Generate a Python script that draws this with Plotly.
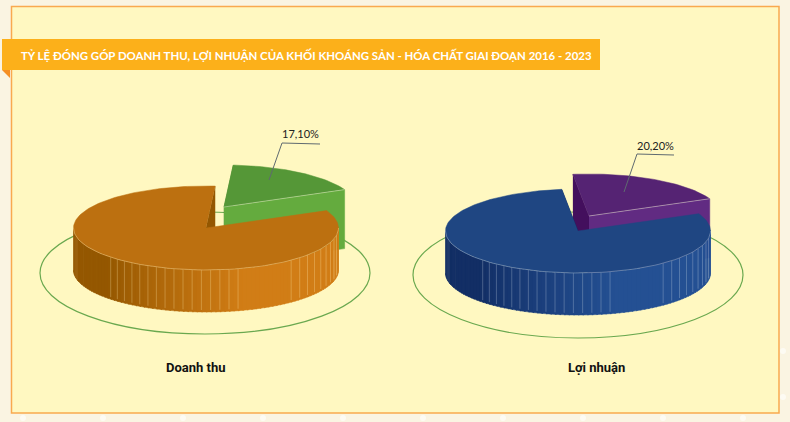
import numpy as np
import plotly.graph_objects as go

# values
chart_names = ["Doanh thu", "Lợi nhuận"]
share_khoi = [17.10, 20.20]
share_con_lai = [82.90, 79.80]
title = "TỶ LỆ ĐÓNG GÓP DOANH THU, LỢI NHUẬN CỦA KHỐI KHOÁNG SẢN - HÓA CHẤT GIAI ĐOẠN 2016 - 2023"

W, H = 790, 422
RX, RY = 132.5, 42
WALL = 42

# (main colours) top, wall dark, wall light, seam / small slice: top, wall, side
styles = [
    dict(center=(206, 228), shift=(18, -21), start=86, ring=(205, 273, 165, 61),
         top="#bc7010", dark="#945700", light="#d17d16", seam="rgba(255,232,170,0.38)",
         s_top="#559737", s_wall="#64ab3e", s_side="#4a8a30", s_wall_h=59,
         leader=([269, 282, 320], [180, 143, 144]), label=(300, 133), name_x=195.5),
    dict(center=(578, 231), shift=(11, -15), start=97, ring=(578, 275, 165, 63),
         top="#1f4682", dark="#122e65", light="#245093", seam="rgba(215,225,235,0.35)",
         s_top="#552373", s_wall="#612b82", s_side="#430f5d", s_wall_h=59,
         leader=([624, 637, 674], [192, 154, 155]), label=(655, 145), name_x=596),
]

fig = go.Figure()


def poly(xs, ys, color, line=None):
    fig.add_trace(go.Scatter(x=xs, y=ys, mode="lines", fill="toself", fillcolor=color,
                             line=dict(color=line or color, width=0.5),
                             hoverinfo="skip", showlegend=False))


def edge(xs, ys, color, width=1):
    fig.add_trace(go.Scatter(x=xs, y=ys, mode="lines", line=dict(color=color, width=width),
                             hoverinfo="skip", showlegend=False))


def px(cx, cy, a):
    a = np.radians(a)
    return cx + RX * np.cos(a), cy - RY * np.sin(a)


def mix(c1, c2, t):
    a = [int(c1[i:i + 2], 16) for i in (1, 3, 5)]
    b = [int(c2[i:i + 2], 16) for i in (1, 3, 5)]
    return "rgb(%d,%d,%d)" % tuple(a[i] + (b[i] - a[i]) * t for i in range(3))


def small_slice(st, share):
    cx, cy = st["center"][0] + st["shift"][0], st["center"][1] + st["shift"][1]
    a0 = st["start"]
    a1 = a0 - share * 3.6
    arc = np.linspace(a0, a1, 50)
    ax, ay = px(cx, cy, arc)
    h = st["s_wall_h"]
    poly([ax[0], cx, cx, ax[0]], [ay[0], cy, cy + h, ay[0] + h], st["s_side"])
    poly([cx, ax[-1], ax[-1], cx], [cy, ay[-1], ay[-1] + h, cy + h], st["s_wall"])
    poly([cx, *ax], [cy, *ay], st["s_top"])
    edge([cx, ax[-1]], [cy, ay[-1]], "rgba(255,255,230,0.4)")


def main_slice(st, small_share, share):
    cx, cy = st["center"]
    a_end = st["start"] - small_share * 3.6
    a_start = a_end - share * 3.6
    # cut face
    sx, sy = px(cx, cy, a_start)
    poly([sx, cx, cx, sx], [sy, cy, cy + WALL, sy + WALL], st["dark"])
    # outer wall, one facet at a time
    steps = np.arange(-180, 0.01, 2)
    for a, b in zip(steps[:-1], steps[1:]):
        t = np.clip((a + 140) / 65, 0, 1)
        x1, y1 = px(cx, cy, np.linspace(a, b + 0.6, 4))
        poly([*x1, *x1[::-1]], [*y1, *(y1[::-1] + WALL)], mix(st["dark"], st["light"], t))
    for a in [*np.arange(-136, -75, 4), *np.arange(-50, -6, 5)]:
        x1, y1 = px(cx, cy, a)
        edge([x1, x1], [y1, y1 + WALL - 2], st["seam"], 0.8)
    # top face
    arc = np.linspace(a_end, a_start, 200)
    ax, ay = px(cx, cy, arc)
    poly([cx, *ax], [cy, *ay], st["top"])
    rx_, ry_ = px(cx, cy, np.linspace(-180, 0, 80))
    edge(rx_, ry_, st["seam"], 1)


for st, small, big in zip(styles, share_khoi, share_con_lai):
    small_slice(st, small)
    main_slice(st, small, big)
    edge(st["leader"][0], st["leader"][1], "#5f6a70", 1)

shapes = []
# faint dots of the page pattern, only the margin shows
for i in range(10):
    shapes.append(dict(type="circle", x0=20 + 80 * i, x1=26 + 80 * i, y0=415, y1=421,
                       fillcolor="rgba(255,255,255,0.6)", line_width=0, layer="below"))
for y in (351, 397):
    shapes.append(dict(type="circle", x0=780, x1=786, y0=y - 3, y1=y + 3,
                       fillcolor="rgba(255,255,255,0.6)", line_width=0, layer="below"))
shapes += [
    dict(type="rect", x0=11.5, y0=6.5, x1=779, y1=413, fillcolor="#fff8c1",
         line=dict(color="#f9a94f", width=1.5), layer="below"),
    dict(type="rect", x0=2, y0=39, x1=600, y1=70, fillcolor="#fcb01a", line_width=0, layer="below"),
    dict(type="path", path="M2,70 L10,70 L10,78 Z", fillcolor="#f58f24", line_width=0, layer="below"),
]
for st in styles:
    x, y, rx, ry = st["ring"]
    shapes.append(dict(type="circle", x0=x - rx, x1=x + rx, y0=y - ry, y1=y + ry,
                       line=dict(color="#6aa84f", width=1.2), layer="below"))

annotations = [dict(x=19, y=55, text=title, showarrow=False, xanchor="left",
                    font=dict(family="Lato", size=11.45, color="white", weight=700))]
for st, name, small in zip(styles, chart_names, share_khoi):
    annotations.append(dict(x=st["label"][0], y=st["label"][1], text=f"{small:.2f}%".replace(".", ","),
                            showarrow=False, font=dict(family="Lato", size=11, color="#222222")))
    annotations.append(dict(x=st["name_x"], y=367, text=name, showarrow=False,
                            font=dict(family="Roboto", size=13, color="#111111", weight=700)))

fig.update_layout(width=W, height=H, margin=dict(l=0, r=0, t=0, b=0),
                  paper_bgcolor="#faf4e2", plot_bgcolor="rgba(0,0,0,0)",
                  shapes=shapes, annotations=annotations, showlegend=False)
fig.update_xaxes(range=[0, W], visible=False, fixedrange=True)
fig.update_yaxes(range=[H, 0], visible=False, fixedrange=True)
fig.write_html("out.html", config=dict(displayModeBar=False),
               post_script="document.body.style.margin='0';")
